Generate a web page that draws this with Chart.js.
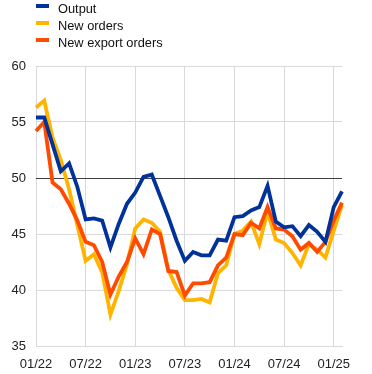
<!DOCTYPE html>
<html>
<head>
<meta charset="utf-8">
<script src="https://cdn.jsdelivr.net/npm/chart.js@4"></script>
<style>
  body { margin: 0; background: #fff; }
  #wrap { position: relative; width: 372px; height: 374px; }
  #legend { position: absolute; left: 36px; top: 0; font: 12.8px "Liberation Sans", Arial, sans-serif; color: #111; }
  .row { position: relative; height: 17px; line-height: 17px; padding-left: 22px; white-space: nowrap; }
  .row span { position: absolute; left: 0; top: 4.3px; width: 13px; height: 4px; }
</style>
</head>
<body>
<div id="wrap">
  <canvas id="c" width="372" height="374"></canvas>
  <div id="legend"></div>
</div>
<script>
// monthly, 01/22 .. 02/25
const months = [
  '01/22','02/22','03/22','04/22','05/22','06/22','07/22','08/22','09/22','10/22','11/22','12/22',
  '01/23','02/23','03/23','04/23','05/23','06/23','07/23','08/23','09/23','10/23','11/23','12/23',
  '01/24','02/24','03/24','04/24','05/24','06/24','07/24','08/24','09/24','10/24','11/24','12/24',
  '01/25','02/25'
];

const output = [
  55.4, 55.4, 53.0, 50.6, 51.3, 49.2, 46.3, 46.4, 46.2, 43.8, 45.9, 47.7,
  48.7, 50.1, 50.3, 48.4, 46.5, 44.4, 42.6, 43.4, 43.1, 43.1, 44.5, 44.4,
  46.5, 46.6, 47.1, 47.4, 49.3, 46.1, 45.6, 45.7, 44.8, 45.8, 45.2, 44.3,
  47.4, 48.8
];

const newOrders = [
  56.3, 56.9, 53.6, 51.6, 49.0, 45.8, 42.6, 43.2, 41.6, 37.8, 39.9, 42.3,
  45.5, 46.3, 46.0, 45.2, 41.8, 40.2, 39.1, 39.1, 39.2, 38.9, 41.5, 42.2,
  45.0, 45.3, 46.1, 44.1, 47.0, 44.5, 44.2, 43.3, 42.2, 44.1, 43.6, 42.9,
  45.3, 47.6
];

const newExportOrders = [
  54.2, 55.0, 49.6, 49.0, 47.7, 46.2, 44.3, 44.0, 42.5, 39.6, 41.2, 42.5,
  44.6, 43.2, 45.4, 45.0, 41.7, 41.6, 39.5, 40.6, 40.6, 40.7, 42.2, 42.9,
  45.0, 44.9, 46.0, 45.5, 47.4, 45.5, 45.4, 44.8, 43.6, 44.2, 43.4, 44.3,
  46.2, 47.8
];

const seriesNames = ['Output', 'New orders', 'New export orders'];
const colors = ['#003299', '#ffb400', '#ff4b00'];

const FONT = '"Liberation Sans", Arial, sans-serif';

// legend as html, one item per row
const leg = document.getElementById('legend');
seriesNames.forEach(function (name, i) {
  const row = document.createElement('div');
  row.className = 'row';
  row.innerHTML = '<span style="background:' + colors[i] + '"></span>' + name;
  leg.appendChild(row);
});

function line(data, i, order) {
  return {
    label: seriesNames[i],
    data: data,
    borderColor: colors[i],
    backgroundColor: colors[i],
    borderWidth: 3.8,
    pointRadius: 0,
    tension: 0,
    fill: false,
    order: order
  };
}

new Chart(document.getElementById('c'), {
  type: 'line',
  data: {
    labels: months,
    datasets: [
      line(output, 0, 1),
      line(newOrders, 1, 3),
      line(newExportOrders, 2, 2)
    ]
  },
  options: {
    responsive: false,
    animation: false,
    layout: { padding: { top: 66, right: 30, left: 0, bottom: 0 } },
    plugins: { legend: { display: false }, tooltip: { enabled: false } },
    scales: {
      x: {
        type: 'category',
        offset: false,
        afterFit: function (s) { s.height = 28; },
        grid: {
          drawTicks: false,
          color: function (ctx) {
            return (ctx.index % 6 === 0 && ctx.index < months.length - 1) ? '#d9d9d9' : 'rgba(0,0,0,0)';
          },
          lineWidth: 1
        },
        border: { display: true, color: '#d9d9d9' },
        ticks: {
          autoSkip: false,
          maxRotation: 0,
          padding: 11,
          color: '#222',
          font: { family: FONT, size: 13 },
          callback: function (v, i) { return i % 6 === 0 ? months[i] : ''; }
        }
      },
      y: {
        min: 35,
        max: 60,
        afterFit: function (s) { s.width = 36; },
        grid: {
          drawTicks: false,
          color: function (ctx) {
            return ctx.tick && ctx.tick.value === 50 ? '#404040' : '#d9d9d9';
          },
          lineWidth: 1
        },
        border: { display: false },
        ticks: {
          stepSize: 5,
          padding: 10,
          color: '#222',
          font: { family: FONT, size: 13 }
        }
      }
    }
  }
});
</script>
</body>
</html>
